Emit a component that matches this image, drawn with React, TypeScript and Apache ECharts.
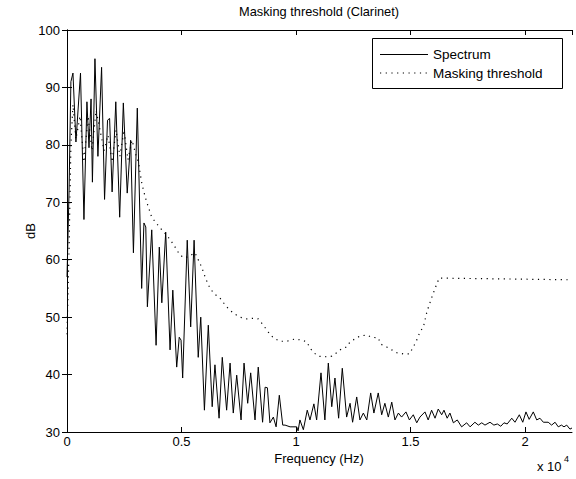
import React, { useEffect, useRef } from "react";
import * as echarts from "echarts";

const titleText = "Masking threshold (Clarinet)";
const xName = "Frequency (Hz)";
const yName = "dB";
const seriesNames = ["Spectrum", "Masking threshold"];
const xTicks = [0, 5000, 10000, 15000, 20000];
const yTicks = [30, 40, 50, 60, 70, 80, 90, 100];

const spectrumHz = [0, 90, 170, 260, 390, 590, 740, 870, 960, 1050, 1110, 1220, 1350, 1510, 1640, 1770, 1860, 1970, 2130, 2300, 2460, 2630, 2780, 2900, 3070, 3260, 3360, 3440, 3510, 3700, 3890, 4030, 4140, 4310, 4500, 4620, 4790, 4900, 4980, 5050, 5250, 5400, 5550, 5730, 5840, 6000, 6170, 6340, 6460, 6640, 6780, 6970, 7120, 7260, 7410, 7600, 7730, 7890, 8020, 8210, 8350, 8540, 8650, 8750, 8860, 9010, 9130, 9270, 9420, 9520, 9740, 10030, 10090, 10170, 10320, 10490, 10610, 10780, 10900, 11090, 11260, 11410, 11560, 11700, 11860, 12020, 12210, 12360, 12470, 12650, 12790, 12940, 13090, 13260, 13400, 13590, 13740, 13880, 14030, 14180, 14320, 14470, 14610, 14800, 14950, 15120, 15270, 15410, 15630, 15770, 15920, 16070, 16210, 16360, 16460, 16600, 16720, 16870, 17040, 17230, 17450, 17600, 17810, 17960, 18110, 18250, 18470, 18640, 18790, 18940, 19080, 19220, 19420, 19560, 19750, 19900, 20040, 20180, 20360, 20510, 20650, 20800, 21010, 21160, 21310, 21450, 21590, 21700, 21820, 21960, 22050];
const spectrumDb = [57, 72, 91, 92.5, 80.5, 92.5, 67, 87.5, 79.5, 88, 73.5, 95, 78, 93.5, 70.5, 84.3, 84.6, 71.8, 87.5, 67.4, 87.3, 71.6, 80.8, 61.2, 86.4, 55, 66.4, 65.7, 51.8, 65.2, 45.1, 62.2, 52.5, 64.8, 44.3, 54.7, 41.3, 46.5, 46, 39.4, 63.4, 48.3, 63.4, 43, 50, 33.8, 48.6, 34.4, 41.7, 32.4, 43, 33.8, 42, 33.3, 39.9, 32.1, 42, 35, 40.3, 32.1, 41.3, 31.7, 37.8, 37.7, 31.6, 32.6, 30.9, 36.4, 31.2, 31.2, 30.9, 30.9, 30.2, 32.1, 30.4, 33.8, 32.1, 34.9, 32.1, 40.3, 32.1, 42, 34.4, 39.4, 32.4, 41.1, 32.6, 35, 31.7, 36.1, 32.1, 33.3, 32.1, 36.8, 33.3, 36.8, 33, 35, 32.6, 35.2, 32.1, 33.3, 32.6, 33.5, 32.1, 33, 31.6, 32.6, 33.5, 32.1, 33.8, 32.4, 34, 33, 33.8, 32.4, 33.3, 31.6, 32.1, 30.9, 31.6, 30.9, 31.7, 31.2, 31.6, 31.2, 31.7, 31.2, 31.4, 31, 31.6, 31.4, 32.4, 31.7, 33, 31.7, 33.5, 32.2, 33.5, 32.1, 32.4, 31.7, 31.7, 31.2, 31.7, 30.9, 31.2, 30.9, 31.2, 30.5, 30.7];

const maskHz = [0, 90, 170, 260, 390, 570, 740, 920, 1090, 1270, 1440, 1620, 1790, 1970, 2140, 2310, 2490, 2660, 2840, 3010, 3120, 3260, 3410, 3550, 3700, 3890, 4140, 4350, 4570, 4720, 4930, 5150, 5410, 5590, 5730, 5880, 6030, 6170, 6390, 6680, 6970, 7260, 7550, 7850, 8130, 8350, 8570, 8790, 9010, 9300, 9590, 9950, 10250, 10470, 10610, 10780, 10970, 11260, 11560, 11780, 11990, 12210, 12360, 12570, 12790, 13090, 13300, 13590, 13700, 13960, 14180, 14400, 14680, 14950, 15120, 15270, 15410, 15560, 15720, 15890, 16070, 16250, 22050];
const maskDb = [47, 62, 80, 87, 81, 85, 77, 85, 79, 86, 82.6, 79, 81.7, 77, 82.6, 78, 82.6, 77.4, 80.8, 78.2, 77, 73.4, 71, 69.2, 67.4, 66.4, 65.2, 64.3, 63.1, 62.2, 60.8, 60.3, 60.8, 61.2, 60, 58.7, 57, 55.6, 54.2, 53.3, 51.8, 50.7, 50, 49.7, 49.8, 49.7, 48.6, 47.4, 46.4, 45.8, 45.8, 46.2, 46, 45.7, 44.6, 43.8, 43.2, 43.1, 43.2, 43.8, 44.5, 44.8, 45.7, 46.2, 46.7, 46.9, 46.5, 46.4, 45.3, 44.8, 44.3, 43.8, 43.6, 43.6, 44.8, 46, 47.4, 48.3, 51, 53, 55, 56.8, 56.5];

const zip = (xs: number[], ys: number[]) => {
  const n = Math.min(xs.length, ys.length);
  const out: number[][] = [];
  for (let i = 0; i < n; i++) out.push([xs[i], ys[i]]);
  return out;
};

const FONT = "Liberation Sans, Arial, Helvetica, sans-serif";
const DOT: number[] = [1.2, 4.5];

export default function App() {
  const ref = useRef<HTMLDivElement>(null);
  useEffect(() => {
    if (!ref.current) return;
    const chart = echarts.init(ref.current, undefined, { renderer: "svg" });
    const xMin = 0;
    const xMax = 22050;
    const yMin = yTicks[0];
    const yMax = yTicks[yTicks.length - 1];
    const baseAxis = {
      axisLine: { show: true, lineStyle: { color: "#000", width: 1 } },
      axisTick: { show: true, inside: true, length: 5, lineStyle: { color: "#000" } },
      splitLine: { show: false },
    };
    chart.setOption({
      animation: false,
      backgroundColor: "#fff",
      textStyle: { fontFamily: FONT, color: "#000" },
      title: {
        text: titleText,
        left: 239,
        top: 5,
        textStyle: { fontFamily: FONT, fontSize: 12.8, fontWeight: "normal", color: "#000" },
        padding: 0,
      },
      grid: { left: 67, right: 4, top: 30, bottom: 47, containLabel: false },
      xAxis: [
        {
          ...baseAxis,
          type: "value",
          min: xMin,
          max: xMax,
          interval: xTicks[1] - xTicks[0],
          position: "bottom",
          axisLabel: {
            show: true,
            margin: 3,
            fontFamily: FONT,
            fontSize: 13,
            color: "#000",
            showMaxLabel: false,
            formatter: (v: number) => (xTicks.indexOf(v) >= 0 ? String(v / 10000) : ""),
          },
        },
        {
          ...baseAxis,
          type: "value",
          min: xMin,
          max: xMax,
          interval: xTicks[1] - xTicks[0],
          position: "top",
          axisLabel: { show: false },
        },
      ],
      yAxis: [
        {
          ...baseAxis,
          type: "value",
          min: yMin,
          max: yMax,
          interval: yTicks[1] - yTicks[0],
          position: "left",
          axisLabel: { show: true, margin: 7, fontFamily: FONT, fontSize: 13, color: "#000" },
        },
        {
          ...baseAxis,
          type: "value",
          min: yMin,
          max: yMax,
          interval: yTicks[1] - yTicks[0],
          position: "right",
          axisLabel: { show: false },
        },
      ],
      graphic: [
        {
          type: "text",
          x: 319,
          y: 458,
          style: {
            text: xName,
            fontFamily: FONT,
            fontSize: 13,
            fill: "#000",
            align: "center",
            verticalAlign: "middle",
          },
        },
        {
          type: "text",
          x: 30,
          y: 231,
          rotation: Math.PI / 2,
          style: {
            text: yName,
            fontFamily: FONT,
            fontSize: 13,
            fill: "#000",
            align: "center",
            verticalAlign: "middle",
          },
        },
        {
          type: "text",
          left: 537,
          top: 460,
          style: { text: "x 10", fontFamily: FONT, fontSize: 13, fill: "#000" },
        },
        {
          type: "text",
          left: 564,
          top: 454,
          style: { text: "4", fontFamily: FONT, fontSize: 9, fill: "#000" },
        },
        {
          type: "group",
          left: 372,
          top: 38,
          children: [
            {
              type: "rect",
              shape: { x: 0.5, y: 0.5, width: 190, height: 50 },
              style: { fill: "#fff", stroke: "#000", lineWidth: 1 },
            },
            {
              type: "line",
              shape: { x1: 8, y1: 16.5, x2: 56, y2: 16.5 },
              style: { stroke: "#000", lineWidth: 1 },
            },
            {
              type: "line",
              shape: { x1: 8, y1: 35, x2: 56, y2: 35 },
              style: { stroke: "#000", lineWidth: 1.2, lineDash: DOT },
            },
            {
              type: "text",
              x: 61,
              y: 16.5,
              style: {
                text: seriesNames[0],
                fontFamily: FONT,
                fontSize: 13.5,
                fill: "#000",
                verticalAlign: "middle",
              },
            },
            {
              type: "text",
              x: 61,
              y: 35,
              style: {
                text: seriesNames[1],
                fontFamily: FONT,
                fontSize: 13.5,
                fill: "#000",
                verticalAlign: "middle",
              },
            },
          ],
        },
      ],
      series: [
        {
          name: seriesNames[0],
          type: "line",
          data: zip(spectrumHz, spectrumDb),
          symbol: "none",
          lineStyle: { color: "#000", width: 1 },
          itemStyle: { color: "#000" },
        },
        {
          name: seriesNames[1],
          type: "line",
          data: zip(maskHz, maskDb),
          symbol: "none",
          lineStyle: { color: "#000", width: 1.2, type: DOT },
          itemStyle: { color: "#000" },
        },
      ],
    });
    return () => chart.dispose();
  }, []);
  return (
    <div
      ref={ref}
      style={{ position: "fixed", left: 0, top: 0, width: 576, height: 479, background: "#fff" }}
    />
  );
}
